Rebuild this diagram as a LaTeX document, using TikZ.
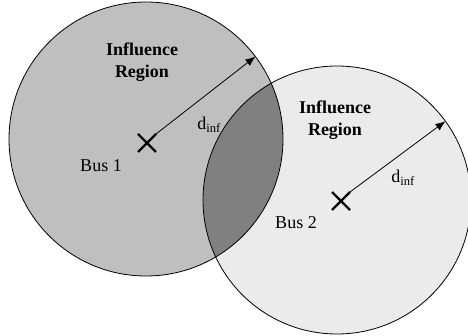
\documentclass[tikz,border=0pt]{standalone}
\usepackage{fontspec}
\setmainfont{Liberation Serif}
\usetikzlibrary{arrows.meta,shapes.misc}

\definecolor{zoneone}{gray}{0.75}
\definecolor{zonetwo}{gray}{0.92}
\definecolor{zoneboth}{gray}{0.50}

\begin{document}
\begin{tikzpicture}[
  x=1pt, y=-1pt,
  zone/.style={circle,inner sep=0pt,outer sep=0pt,minimum size=#1},
  rim/.style={line width=0.8pt},
  bus/.style={cross out,draw,line width=2.4pt,minimum size=18pt,inner sep=0pt,outer sep=0pt},
  label/.style={font=\fontsize{18}{22}\selectfont,align=center},
  reach/.style={line width=0.8pt,-{Latex[length=10pt,width=8pt]}}
]
  \useasboundingbox (0,0) rectangle (468,336);

  \node[zone=274pt,fill=zoneone] (inf1) at (146,139) {};
  \node[zone=268pt,fill=zonetwo] (inf2) at (337,200) {};
  % overlap of the two regions
  \begin{scope}
    \clip (inf1.center) circle (137);
    \fill[zoneboth] (inf2.center) circle (134);
  \end{scope}
  \draw[rim] (inf1.center) circle (137);
  \draw[rim] (inf2.center) circle (134);

  \node[bus] (x1) at (147,143) {};
  \node[bus] (x2) at (341,201) {};

  \node[label,font=\fontsize{18}{22}\selectfont\bfseries] (reg1) at (142,62) {Influence\\Region};
  \node[label,font=\fontsize{18}{22}\selectfont\bfseries] (reg2) at (335,120) {Influence\\Region};
  \node[label] (name1) at (101,166) {Bus 1};
  \node[label] (name2) at (296,223) {Bus 2};

  \draw[reach] (x1.north east) -- (inf1.37);
  \draw[reach] (x2.north east) -- (inf2.36);
  \node[label] (d1) at (209,125) {d\textsubscript{inf}};
  \node[label] (d2) at (403,178) {d\textsubscript{inf}};
\end{tikzpicture}
\end{document}
